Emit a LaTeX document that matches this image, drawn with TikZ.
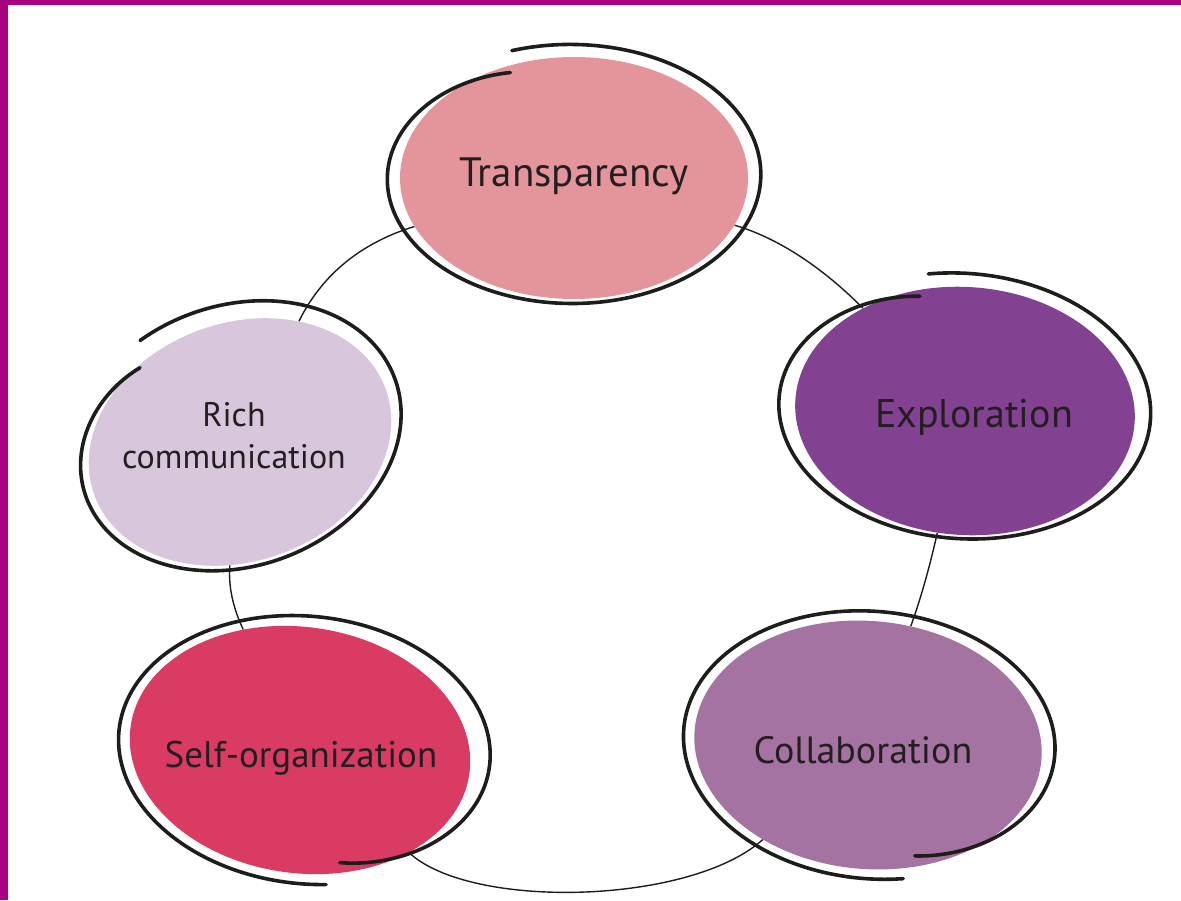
\documentclass[tikz,border=0pt]{standalone}
\usepackage{fontspec}
\setmainfont{PT Sans}
\usetikzlibrary{shapes.geometric,backgrounds}
\definecolor{frame}{HTML}{A8007F}
\definecolor{ink}{HTML}{1D1D1B}
\definecolor{txt}{HTML}{231F20}
\definecolor{cT}{HTML}{E4959B}
\definecolor{cR}{HTML}{D8C6DC}
\definecolor{cE}{HTML}{834191}
\definecolor{cS}{HTML}{D93B63}
\definecolor{cC}{HTML}{A473A1}
\tikzset{
  blobfill/.style={ellipse, inner sep=0pt, draw=none},
  sketch/.style={line width=3.6pt, draw=ink, line cap=round, line join=round},
  link/.style={draw=ink, line width=1.4pt},
  lbl/.style={text=txt, inner sep=0pt},
}
% #1 cx, #2 cy, #3 Rx, #4 Ry, #5 rotation, #6 start angle, #7 end angle
\newcommand\sketchloop[7]{%
  \begin{scope}[shift={(#1,-#2)}, rotate=#5]
    \draw[sketch] plot[smooth, domain=#6:#7, samples=160, variable=\t]
      ({#3*(1+0.03*(\t-#6)/360-0.13*exp(-(\t-#6)/35))*cos(\t)},
       {#4*(1+0.03*(\t-#6)/360-0.13*exp(-(\t-#6)/35))*sin(\t)});
  \end{scope}}
\begin{document}
\begin{tikzpicture}[x=1pt,y=1pt]
  \useasboundingbox (0,0) rectangle (1181,-900);
  \fill[frame] (0,0) rectangle (1181,-5);
  \fill[frame] (0,0) rectangle (8,-900);

  % fills (named nodes)
  \node[blobfill, fill=cT, minimum width=348pt, minimum height=242pt] (T) at (574,-178) {};
  \node[blobfill, fill=cR, rotate=20, minimum width=310pt, minimum height=238pt] (R) at (240,-442) {};
  \node[blobfill, fill=cE, rotate=-4, minimum width=340pt, minimum height=248pt] (E) at (965,-411) {};
  \node[blobfill, fill=cS, rotate=-8, minimum width=342pt, minimum height=246pt] (S) at (300,-750) {};
  \node[blobfill, fill=cC, rotate=-5, minimum width=348pt, minimum height=248pt] (C) at (868,-745) {};

  % sketchy outlines
  \sketchloop{571}{175}{186}{127}{0}{112}{468}
  \sketchloop{237}{437}{165}{128}{20}{118}{470}
  \sketchloop{962}{407}{185}{130}{-4}{108}{463}
  \sketchloop{307}{749}{185}{131}{-6}{286}{640}
  \sketchloop{872}{744}{185}{131}{-5}{289}{643}

  % labels
  \node[lbl, font=\fontsize{41}{45}\selectfont, anchor=base] (tT) at (574,-186) {Transparency};
  \node[lbl, font=\fontsize{34}{42}\selectfont, anchor=center, align=center] (tR) at (234,-436) {Rich\\communication};
  \node[lbl, font=\fontsize{40}{44}\selectfont, anchor=base] (tE) at (974,-427) {Exploration};
  \node[lbl, font=\fontsize{37}{41}\selectfont, anchor=base] (tS) at (301,-767) {Self-organization};
  \node[lbl, font=\fontsize{38}{42}\selectfont, anchor=base] (tC) at (863,-763) {Collaboration};

  % connectors behind the blobs
  \begin{pgfonlayer}{background}
    \draw[link] (T) .. controls (370,-240) and (325,-268) .. (R);
    \draw[link] (T) .. controls (785,-240) and (830,-275) .. (E);
    \draw[link] (E) .. controls (930,-565) and (922,-595) .. (C);
    \draw[link] (C) .. controls (690,-905) and (470,-910) .. (S);
    \draw[link] (S) .. controls (234,-610) and (228,-588) .. (R);
  \end{pgfonlayer}
\end{tikzpicture}
\end{document}
